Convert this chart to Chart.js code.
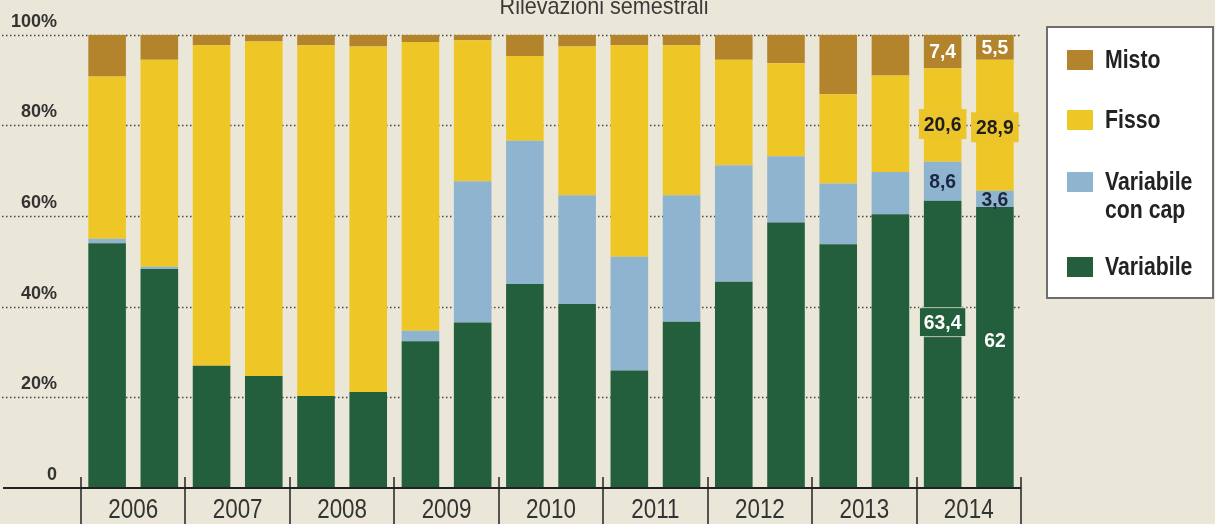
<!DOCTYPE html>
<html><head><meta charset="utf-8">
<script src="https://cdn.jsdelivr.net/npm/chart.js@4/dist/chart.umd.min.js"></script>
<style>
html,body{margin:0;padding:0;background:#ebe7d8;}
canvas{display:block}
</style>
</head><body>
<canvas id="c" width="1215" height="524"></canvas>
<script>
// ---- data ----
const periods = ['2006 I','2006 II','2007 I','2007 II','2008 I','2008 II','2009 I','2009 II','2010 I','2010 II','2011 I','2011 II','2012 I','2012 II','2013 I','2013 II','2014 I','2014 II'];
const years = ['2006','2007','2008','2009','2010','2011','2012','2013','2014'];
const variabile    = [54.0, 48.3, 27.0, 24.7, 20.3, 21.2, 32.4, 36.5, 45.0, 40.6, 25.9, 36.7, 45.5, 58.6, 53.8, 60.4, 63.4, 62.0];
const variabileCap = [ 1.0,  0.5,  0.0,  0.0,  0.0,  0.0,  2.3, 31.2, 31.6, 24.0, 25.1, 27.9, 25.7, 14.6, 13.4,  9.3,  8.6,  3.6];
const fisso        = [35.8, 45.7, 70.7, 73.8, 77.4, 76.2, 63.7, 31.1, 18.7, 32.8, 46.7, 33.1, 23.3, 20.5, 19.7, 21.3, 20.6, 28.9];
const misto        = [ 9.2,  5.5,  2.3,  1.5,  2.3,  2.6,  1.6,  1.2,  4.7,  2.6,  2.3,  2.3,  5.5,  6.3, 13.1,  9.0,  7.4,  5.5];
const yTicks = [0, 20, 40, 60, 80, 100];
const seriesNames = ['Variabile', 'Variabile con cap', 'Fisso', 'Misto'];
const labelledBars = [16, 17];
const title = 'Rilevazioni semestrali';

const COLORS = { green:'#245f3d', blue:'#8fb4cf', yellow:'#eec626', brown:'#b3842c', bg:'#ebe7d8' };
const SANS = '"Liberation Sans",Arial,sans-serif';
const fmt = v => String(v).replace('.', ',');

function condText(ctx, text, x, y, sx, align) {
  ctx.save();
  ctx.translate(x, y);
  ctx.scale(sx, 1);
  ctx.textAlign = align || 'center';
  ctx.fillText(text, 0, 0);
  ctx.restore();
}

const decor = {
  id: 'decor',
  beforeDraw(chart) {
    const ctx = chart.ctx;
    ctx.save();
    ctx.fillStyle = COLORS.bg;
    ctx.fillRect(0, 0, chart.width, chart.height);
    ctx.fillStyle = '#3a3a3a';
    ctx.font = '24px ' + SANS;
    ctx.textBaseline = 'alphabetic';
    condText(ctx, title, 604, 14, 0.9, 'center');
    ctx.restore();
  },
  beforeDatasetsDraw(chart) {
    const ctx = chart.ctx, y = chart.scales.y, a = chart.chartArea;
    ctx.save();
    ctx.strokeStyle = '#444';
    ctx.lineWidth = 1.5;
    ctx.setLineDash([1.5, 2.5]);
    yTicks.filter(v => v > 0).forEach(v => {
      const py = Math.round(y.getPixelForValue(v)) + 0.5;
      ctx.beginPath(); ctx.moveTo(2, py); ctx.lineTo(a.right, py); ctx.stroke();
    });
    ctx.restore();
  },
  afterDatasetsDraw(chart) {
    const ctx = chart.ctx, a = chart.chartArea, ys = chart.scales.y, xy = chart.scales.xYear;
    ctx.save();
    // axis line
    ctx.strokeStyle = '#222';
    ctx.lineWidth = 2;
    ctx.beginPath(); ctx.moveTo(3, a.bottom); ctx.lineTo(a.right, a.bottom); ctx.stroke();
    // year separators
    ctx.lineWidth = 1.5;
    for (let i = 0; i <= years.length; i++) {
      const px = Math.round(xy.getPixelForValue(i - 0.5));
      ctx.beginPath(); ctx.moveTo(px, a.bottom - 11); ctx.lineTo(px, chart.height); ctx.stroke();
    }
    // year labels
    ctx.fillStyle = '#333';
    ctx.font = '28px ' + SANS;
    ctx.textBaseline = 'alphabetic';
    years.forEach((t, i) => condText(ctx, t, xy.getPixelForValue(i), a.bottom + 30, 0.8, 'center'));
    // data labels on last bars
    const metas = [0,1,2,3].map(d => chart.getDatasetMeta(d));
    const fisAt = [80.3, 79.6];
    const greenAt = [36.6, 32.6];
    labelledBars.forEach((idx, k) => {
      const g = metas[0].data[idx], b = metas[1].data[idx], m = metas[3].data[idx];
      const cx = g.x, w = g.width;
      ctx.textAlign = 'center'; ctx.textBaseline = 'middle';
      ctx.font = 'bold 21px ' + SANS;
      ctx.fillStyle = '#fff';
      condText(ctx, fmt(misto[idx]), cx, (m.y + m.base) / 2 + 1, 0.92);
      const fy = ys.getPixelForValue(fisAt[k]);
      const ftw = ctx.measureText(fmt(fisso[idx])).width * 0.92;
      const bw = Math.max(w, ftw + 6) + 4;
      ctx.fillStyle = '#ecc52a';
      ctx.fillRect(cx - bw / 2, fy - 15, bw, 30);
      ctx.fillStyle = '#1e1e1e';
      condText(ctx, fmt(fisso[idx]), cx, fy + 1, 0.92);
      ctx.fillStyle = '#1c2740';
      condText(ctx, fmt(variabileCap[idx]), cx, (b.y + b.base) / 2 + 1, 0.92);
      const gy = ys.getPixelForValue(greenAt[k]);
      const gt = fmt(variabile[idx]);
      if (k === 0) {
        const tw = ctx.measureText(gt).width * 0.92;
        ctx.fillStyle = COLORS.green;
        ctx.fillRect(cx - tw / 2 - 4, gy - 14, tw + 8, 28);
        ctx.strokeStyle = 'rgba(235,231,216,0.75)';
        ctx.lineWidth = 1;
        ctx.strokeRect(cx - tw / 2 - 4.5, gy - 14.5, tw + 9, 29);
      }
      ctx.fillStyle = '#fff';
      condText(ctx, gt, cx, gy + 1, 0.92);
    });
    // legend
    const lx = 1047, ly = 27, lw = 166, lh = 271;
    ctx.fillStyle = '#fff';
    ctx.fillRect(lx, ly, lw, lh);
    ctx.strokeStyle = '#6e6e6e';
    ctx.lineWidth = 2;
    ctx.strokeRect(lx, ly, lw, lh);
    const items = [
      { c: COLORS.brown, lines: [seriesNames[3]], y: 60 },
      { c: COLORS.yellow, lines: [seriesNames[2]], y: 120 },
      { c: COLORS.blue, lines: ['Variabile', 'con cap'], y: 182 },
      { c: COLORS.green, lines: [seriesNames[0]], y: 267 }
    ];
    ctx.textBaseline = 'middle';
    ctx.font = 'bold 25px ' + SANS;
    items.forEach(it => {
      ctx.fillStyle = it.c;
      ctx.fillRect(1067, it.y - 10, 26, 20);
      ctx.fillStyle = '#222';
      it.lines.forEach((t, j) => condText(ctx, t, 1105, it.y + 1 + j * 28, 0.85, 'left'));
    });
    ctx.restore();
  }
};

const ds = (label, data, color) => ({ label, data, backgroundColor: color, borderWidth: 0, xAxisID: 'x', yAxisID: 'y', barPercentage: 0.72, categoryPercentage: 1.0 });

new Chart(document.getElementById('c'), {
  type: 'bar',
  data: {
    labels: periods,
    datasets: [
      ds(seriesNames[0], variabile, COLORS.green),
      ds(seriesNames[1], variabileCap, COLORS.blue),
      ds(seriesNames[2], fisso, COLORS.yellow),
      ds(seriesNames[3], misto, COLORS.brown)
    ]
  },
  options: {
    responsive: false,
    animation: false,
    devicePixelRatio: 1,
    layout: { padding: { left: 0, right: 194, top: 34, bottom: 0 } },
    plugins: { legend: { display: false }, tooltip: { enabled: false }, title: { display: false } },
    scales: {
      x: { type: 'category', labels: periods, stacked: true, display: false, offset: true, grid: { display: false } },
      xYear: {
        type: 'category', labels: years, position: 'bottom', offset: true,
        grid: { display: false, drawTicks: false }, border: { display: false },
        ticks: { display: false },
        afterFit: s => { s.height = 36; }
      },
      y: {
        stacked: true, min: 0, max: 100,
        afterBuildTicks: s => { s.ticks = yTicks.map(v => ({ value: v })); },
        grid: { display: false, drawTicks: false }, border: { display: false },
        ticks: {
          color: '#333', font: { family: SANS, size: 18, weight: 'bold' }, padding: 24, labelOffset: -13,
          callback: v => v === 0 ? '0' : v + '%'
        },
        afterFit: s => { s.width = 81; }
      }
    }
  },
  plugins: [decor]
});
</script>
</body></html>
